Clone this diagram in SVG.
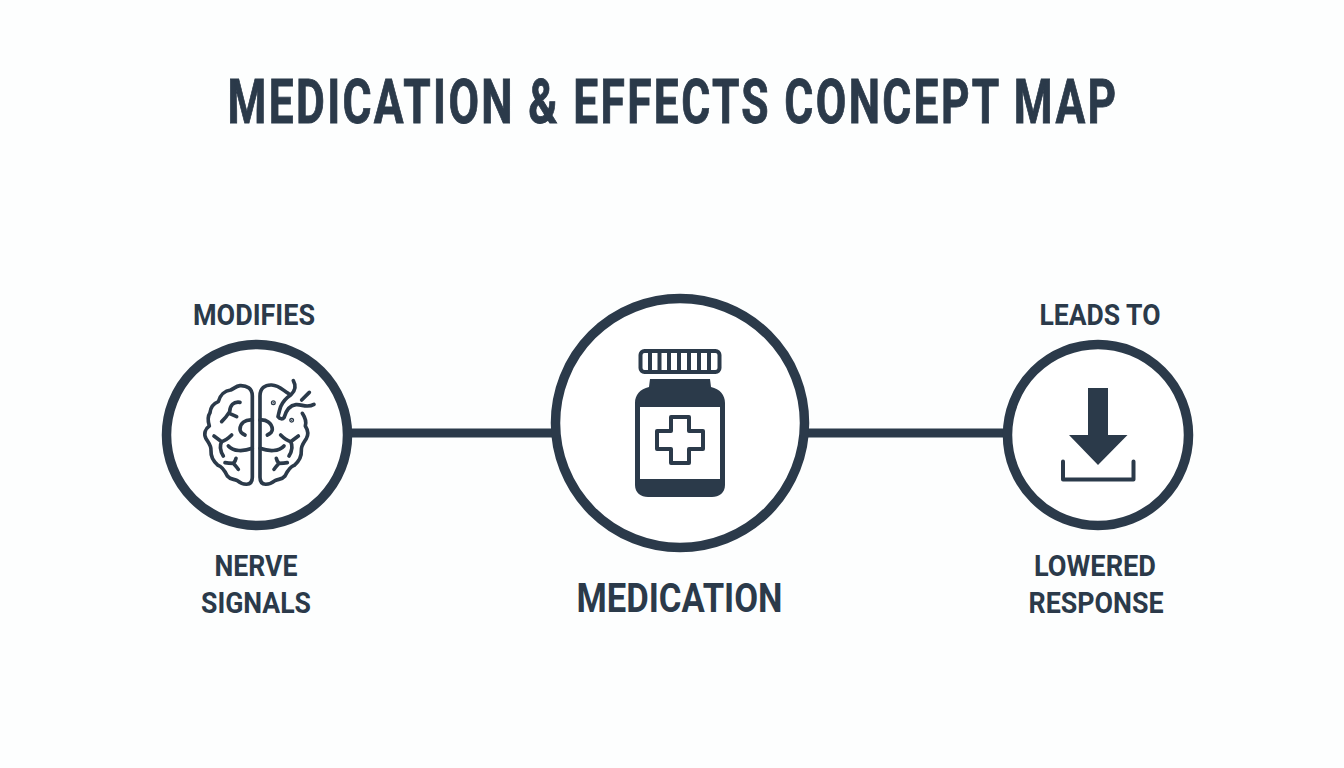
<svg xmlns="http://www.w3.org/2000/svg" width="1344" height="768" viewBox="0 0 1344 768">
<style>
.t{font-family:"Roboto","Liberation Sans",sans-serif;font-weight:700;fill:#2b3a4a;text-anchor:middle}
.ring{fill:#fff;stroke:#2b3a4a}
.ln{fill:none;stroke:#2b3a4a;stroke-linecap:round;stroke-linejoin:round}
.fl{fill:#2b3a4a}
</style>
<rect width="1344" height="768" fill="#fdfefe"/>
<g id="connectors"><path d="M348 433H556M804 433H1006" fill="none" stroke="#2b3a4a" stroke-width="9"/></g>
<g id="title"><text class="t" transform="translate(673 123) scale(.715 1)" font-size="62" letter-spacing="3.300" stroke="#2b3a4a" stroke-width="0.900">MEDICATION &amp; EFFECTS CONCEPT MAP</text></g>
<g id="nerve-signals">
<circle class="ring" cx="257" cy="435" r="90.500" stroke-width="9.500"/>
<text class="t" x="254" y="325" font-size="30" textLength="122" lengthAdjust="spacingAndGlyphs">MODIFIES</text>
<text class="t" x="256" y="576" font-size="30" textLength="83" lengthAdjust="spacingAndGlyphs">NERVE</text>
<text class="t" x="256" y="613" font-size="30" textLength="110" lengthAdjust="spacingAndGlyphs">SIGNALS</text>
<g class="ln" transform="translate(190 370) scale(.3333)" stroke-width="11">
<path d="M187 78C187 55 170 46 150 47C138 48 132 56 122 60C105 62 90 75 85 95C72 100 62 112 60 128C52 140 54 155 58 168C46 176 40 192 48 206C54 216 64 226 63 242C62 258 70 274 84 286C96 290 104 302 112 318C122 330 132 326 142 332C156 344 187 352 187 322Z"/>
<path d="M295 70C280 62 268 46 245 45C225 44 210 55 210 78V322C210 352 240 344 255 332C265 326 275 330 285 318C293 302 301 290 313 286C327 274 335 258 334 242C333 226 343 216 349 206C357 192 351 176 346 168C350 155 345 142 337 130"/>
<path d="M150 97C130 94 120 106 119 125C110 140 102 148 95 155M118 130L140 140"/>
<path d="M187 150C165 148 150 160 150 178C150 188 158 192 165 195"/>
<path d="M72 198L95 215C105 212 115 205 125 195M95 215C88 228 92 245 100 258"/>
<path d="M115 228C130 245 160 245 187 235M105 278C115 280 125 280 130 280C135 275 137 270 138 265M130 280C136 285 140 292 145 298"/>
<path d="M210 150C228 148 246 158 247 178C247 188 239 192 232 195"/>
<path d="M325 198L302 215C292 212 282 205 272 195M302 215C309 228 305 245 297 258"/>
<path d="M282 228C267 245 237 245 210 235M292 278C282 280 272 280 267 280C262 275 260 270 259 265M267 280C261 285 257 292 252 298"/>
<path d="M310 32C320 50 316 62 303 74C288 84 278 95 272 110C268 122 266 132 264 140C270 148 278 148 282 143C288 122 300 106 318 104C336 102 350 116 372 103M335 90L358 67"/>
<circle cx="250" cy="98" r="2" style="fill:#2b3a4a"/>
<circle cx="305" cy="151" r="2" style="fill:#2b3a4a"/>
</g>
</g>
<g id="medication">
<circle class="ring" cx="680" cy="423" r="124.500" stroke-width="9.500"/>
<rect class="ln" x="640.500" y="351" width="79" height="21" rx="4" stroke-width="4"/>
<path class="ln" d="M650 352V371M659.500 352V371M669 352V371M679 352V371M689 352V371M699 352V371M709 352V371" stroke-width="4" style="stroke-linecap:butt"/>
<path class="fl" d="M650 379H710L711 387C720 389 725 395 725 403V485C725 493 719 497 712 497H648C641 497 635 493 635 485V403C635 395 640 389 649 387Z"/>
<rect x="640" y="407" width="80" height="72" fill="#fff"/>
<path d="M671 417H689V431H703V449H689V463H671V449H657V431H671Z" fill="#fff" stroke="#2b3a4a" stroke-width="4" stroke-linejoin="round"/>
<text class="t" x="679.500" y="612" font-size="40" textLength="206" lengthAdjust="spacingAndGlyphs">MEDICATION</text>
</g>
<g id="lowered-response">
<circle class="ring" cx="1098" cy="435" r="90.500" stroke-width="9.500"/>
<text class="t" x="1100" y="325" font-size="30" textLength="121" lengthAdjust="spacingAndGlyphs">LEADS TO</text>
<text class="t" x="1095" y="576" font-size="30" textLength="122" lengthAdjust="spacingAndGlyphs">LOWERED</text>
<text class="t" x="1096" y="613" font-size="30" textLength="135" lengthAdjust="spacingAndGlyphs">RESPONSE</text>
<path class="fl" d="M1088 388H1108V435H1127.500L1098 465L1069 435H1088Z"/>
<path class="ln" d="M1063 461.500V479.500H1133.500V461.500" stroke-width="4"/>
</g>
</svg>
